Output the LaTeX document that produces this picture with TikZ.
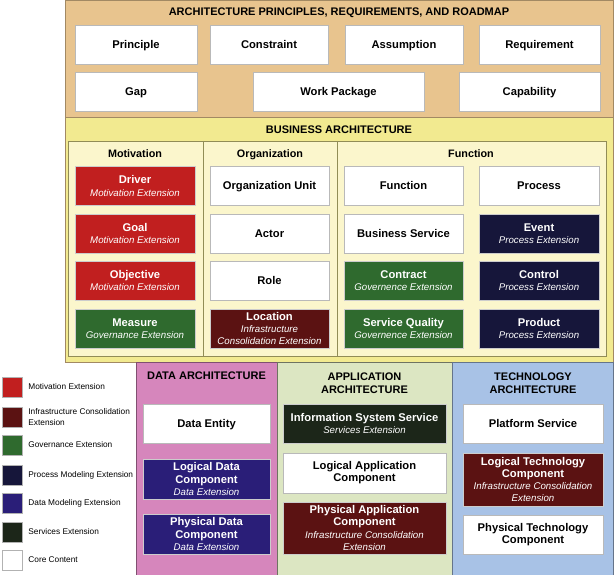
\documentclass[tikz,border=0pt]{standalone}
\usepackage{fontspec}
\setmainfont{Liberation Sans}
\usepackage{xcolor}
\usepackage{tikz}
\usetikzlibrary{positioning}

\definecolor{tanbg}{HTML}{E8C48E}
\definecolor{busbg}{HTML}{F2EA90}
\definecolor{businner}{HTML}{FBF6CC}
\definecolor{databg}{HTML}{D686BC}
\definecolor{appbg}{HTML}{DCE6C2}
\definecolor{techbg}{HTML}{A8C2E6}
\definecolor{motred}{HTML}{C11F1F}
\definecolor{infmaroon}{HTML}{5B1212}
\definecolor{govgreen}{HTML}{2F6A2E}
\definecolor{procnavy}{HTML}{16163A}
\definecolor{dataindigo}{HTML}{2A1E78}
\definecolor{svcdark}{HTML}{1C2619}

% italic sub-line of an extension box
\newcommand{\extn}{\\\fontsize{9.7}{11.5}\selectfont\mdseries\itshape}

\begin{document}
\begin{tikzpicture}[x=1pt, y=-1pt,
    base/.style={rectangle, draw=gray!55, fill=white, inner sep=1pt, align=center,
        minimum height=39pt, font=\bfseries\fontsize{11.2}{12.2}\selectfont},
    bx/.style={base,
        execute at begin node={\rule[-2.6pt]{0pt}{13.2pt}},
        execute at end node={\rule[-2.6pt]{0pt}{2.6pt}}},
    ex/.style={base, draw=gray!40, fill=#1, text=white},
    ttl/.style={font=\bfseries\fontsize{11}{13}\selectfont, align=center},
    hd/.style={font=\bfseries\fontsize{10.8}{12}\selectfont, text height=8pt, text depth=2.2pt},
    sw/.style={rectangle, draw=gray!60, minimum width=20pt, minimum height=20pt, inner sep=0pt},
    lg/.style={anchor=west, align=left, inner sep=0pt, font=\fontsize{8.3}{10.5}\selectfont}]
\useasboundingbox (0,0) rectangle (614,575);

% panels
\filldraw[fill=tanbg, draw=tanbg!70!black] (65,0) rectangle (613,117);
\filldraw[fill=busbg, draw=tanbg!70!black] (65,117) rectangle (613,362);
\filldraw[fill=businner, draw=busbg!60!black] (68,141) rectangle (606,356);
\draw[busbg!60!black] (203,141) -- (203,356) (337,141) -- (337,356);
\filldraw[fill=databg, draw=databg!60!black] (136,362) rectangle (277,575);
\filldraw[fill=appbg, draw=appbg!50!black] (277,362) rectangle (452,575);
\filldraw[fill=techbg, draw=techbg!60!black] (452,362) rectangle (613,575);

% principles, requirements, roadmap
\node[ttl, text height=8pt, text depth=2.2pt] (tPR) at (339,13) {ARCHITECTURE PRINCIPLES, REQUIREMENTS, AND ROADMAP};
\node[bx, minimum width=122pt] (principle) at (136,44.5) {Principle};
\node[bx, minimum width=118pt] (constraint) at (269,44.5) {Constraint};
\node[bx, minimum width=118pt] (assumption) at (404,44.5) {Assumption};
\node[bx, minimum width=121pt] (requirement) at (539.5,44.5) {Requirement};
\node[bx, minimum width=122pt] (gap) at (136,91.5) {Gap};
\node[bx, minimum width=171pt] (workpkg) at (338.5,91.5) {Work Package};
\node[bx, minimum width=141pt] (capability) at (529.5,91.5) {Capability};

% business
\node[ttl, text height=8pt, text depth=2.2pt] (tBus) at (339,130.5) {BUSINESS ARCHITECTURE};
\node[hd] (hMot) at (135,155) {Motivation};
\node[hd] (hOrg) at (270,155) {Organization};
\node[hd] (hFun) at (471,155) {Function};

\node[ex=motred, minimum width=120pt] (driver) at (135,186) {Driver\extn Motivation Extension};
\node[ex=motred, minimum width=120pt] (goal) at (135,233.5) {Goal\extn Motivation Extension};
\node[ex=motred, minimum width=120pt] (objective) at (135,280.5) {Objective\extn Motivation Extension};
\node[ex=govgreen, minimum width=120pt] (measure) at (135,328.5) {Measure\extn Governance Extension};

\node[bx, minimum width=119pt] (orgunit) at (269.5,186) {Organization Unit};
\node[bx, minimum width=119pt] (actor) at (269.5,233.5) {Actor};
\node[bx, minimum width=119pt] (role) at (269.5,280.5) {Role};
\node[ex=infmaroon, minimum width=119pt] (location) at (269.5,328.5)
    {Location\extn Infrastructure\extn Consolidation Extension};

\node[bx, minimum width=119pt] (function) at (403.5,186) {Function};
\node[bx, minimum width=119pt] (bizsvc) at (403.5,233.5) {Business Service};
\node[ex=govgreen, minimum width=119pt] (contract) at (403.5,280.5) {Contract\extn Governence Extension};
\node[ex=govgreen, minimum width=119pt] (svcquality) at (403.5,328.5) {Service Quality\extn Governence Extension};

\node[bx, minimum width=120pt] (process) at (539,186) {Process};
\node[ex=procnavy, minimum width=120pt] (event) at (539,233.5) {Event\extn Process Extension};
\node[ex=procnavy, minimum width=120pt] (control) at (539,280.5) {Control\extn Process Extension};
\node[ex=procnavy, minimum width=120pt] (product) at (539,328.5) {Product\extn Process Extension};

% data
\node[ttl] (tData) at (206.5,376) {DATA ARCHITECTURE};
\node[bx, minimum width=127pt] (dataentity) at (206.5,423.5) {Data Entity};
\node[ex=dataindigo, minimum width=127pt, minimum height=40pt] (logdata) at (206.5,479)
    {Logical Data\\Component\extn Data Extension};
\node[ex=dataindigo, minimum width=127pt, minimum height=40pt] (physdata) at (206.5,534)
    {Physical Data\\Component\extn Data Extension};

% application
\node[ttl] (tApp) at (364.5,383) {APPLICATION\\ARCHITECTURE};
\node[ex=svcdark, minimum width=163pt] (infosys) at (364.5,423.5)
    {Information System Service\extn Services Extension};
\node[bx, minimum width=163pt, minimum height=40pt] (logapp) at (364.5,473)
    {Logical Application\\Component};
\node[ex=infmaroon, minimum width=163pt, minimum height=52pt] (physapp) at (364.5,528)
    {Physical Application\\Component\extn Infrastructure Consolidation\extn Extension};

% technology
\node[ttl] (tTech) at (533,383) {TECHNOLOGY\\ARCHITECTURE};
\node[bx, minimum width=140pt] (platsvc) at (533,423.5) {Platform Service};
\node[ex=infmaroon, minimum width=140pt, minimum height=53pt] (logtech) at (533,479.5)
    {Logical Technology\\Component\extn Infrastructure Consolidation\extn Extension};
\node[bx, minimum width=140pt] (phystech) at (533,534.5) {Physical Technology\\Component};

% legend
\node[sw, fill=motred] (kMot) at (12,387) {};
\node[sw, fill=infmaroon] (kInf) at (12,417) {};
\node[sw, fill=govgreen] (kGov) at (12,445) {};
\node[sw, fill=procnavy] (kProc) at (12,475) {};
\node[sw, fill=dataindigo] (kData) at (12,503) {};
\node[sw, fill=svcdark] (kSvc) at (12,532) {};
\node[sw, fill=white] (kCore) at (12,560) {};
\node[lg, right=6pt of kMot] (lMot) {Motivation Extension};
\node[lg, right=6pt of kInf] (lInf) {Infrastructure Consolidation\\Extension};
\node[lg, right=6pt of kGov] (lGov) {Governance Extension};
\node[lg, right=6pt of kProc] (lProc) {Process Modeling Extension};
\node[lg, right=6pt of kData] (lData) {Data Modeling Extension};
\node[lg, right=6pt of kSvc] (lSvc) {Services Extension};
\node[lg, right=6pt of kCore] (lCore) {Core Content};
\end{tikzpicture}
\end{document}
